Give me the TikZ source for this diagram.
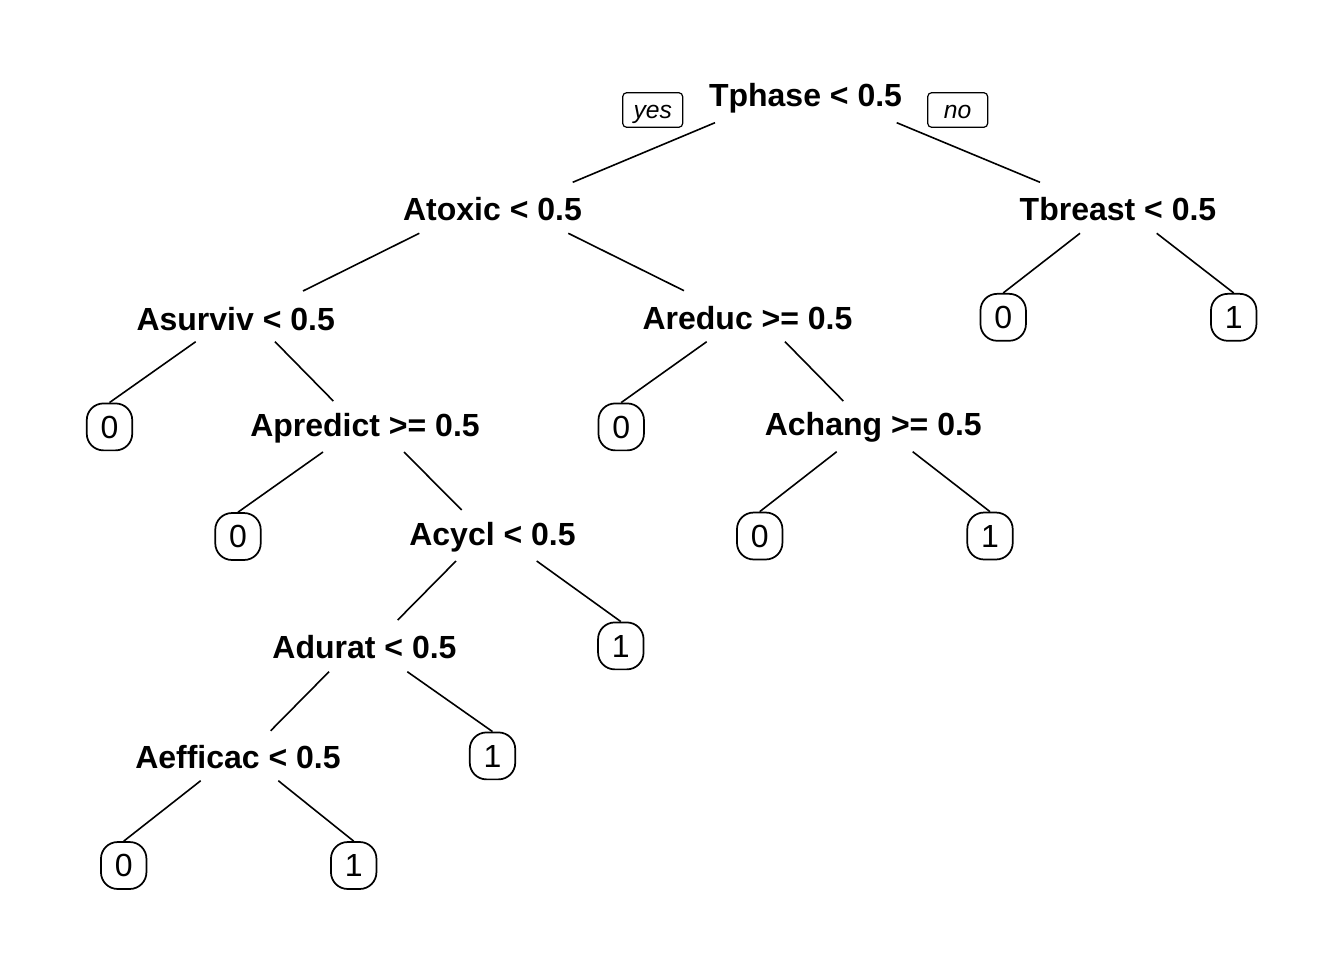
\documentclass[tikz,border=0pt]{standalone}
\usepackage{fontspec}
\setmainfont{Liberation Sans}
\usetikzlibrary{calc}
\begin{document}
\begin{tikzpicture}[x=0.75pt,y=-0.75pt,
  split/.style={anchor=base,inner sep=0pt,font=\bfseries\fontsize{24}{28}\selectfont},
  leaf/.style={draw,line width=1.3pt,rounded corners=12.5pt,minimum width=34.1pt,minimum height=35.2pt,inner sep=0pt,text height=17.2pt,text depth=0pt,font=\fontsize{24}{28}\selectfont},
  yn/.style={draw,line width=0.9pt,rounded corners=3pt,minimum width=45pt,minimum height=26pt,inner sep=0pt,text height=14.45pt,text depth=2pt,font=\itshape\fontsize{18.5}{22}\selectfont},
  edge/.style={line width=1.2pt}]
\useasboundingbox (0,0) rectangle (1344,960);
% split nodes
\node[split] (tphase) at (805.5,106.7) {Tphase < 0.5};
\node[split] (atoxic) at (492.5,220.7) {Atoxic < 0.5};
\node[split] (tbreast) at (1118,220.7) {Tbreast < 0.5};
\node[split] (asurviv) at (235.7,330) {Asurviv < 0.5};
\node[split] (areduc) at (747.5,329.3) {Areduc >= 0.5};
\node[split] (apredict) at (365,436.7) {Apredict >= 0.5};
\node[split] (achang) at (873.3,435) {Achang >= 0.5};
\node[split] (acycl) at (492.5,545) {Acycl < 0.5};
\node[split] (adurat) at (364.5,658.3) {Adurat < 0.5};
\node[split] (aefficac) at (238,768.3) {Aefficac < 0.5};
% yes / no labels
\node[yn] (yes) at (652.7,110) {yes};
\node[yn] (no) at (957.7,110) {no};
% leaves
\node[leaf] (tb0) at (1003.2,317.3) {0};
\node[leaf] (tb1) at (1233.7,317.3) {1};
\node[leaf] (as0) at (109.5,426.9) {0};
\node[leaf] (ar0) at (621.2,426.9) {0};
\node[leaf] (ap0) at (238,536.5) {0};
\node[leaf] (ac0) at (759.7,536) {0};
\node[leaf] (ac1) at (990,536) {1};
\node[leaf] (cy1) at (620.8,645.9) {1};
\node[leaf] (du1) at (492.5,755.9) {1};
\node[leaf] (ef0) at (123.7,865.5) {0};
\node[leaf] (ef1) at (353.7,865.5) {1};
% edges
\draw[edge] ($(tphase.base)+(-90.5,16)$) -- ($(atoxic.base)+(80.2,-38.4)$);
\draw[edge] ($(tphase.base)+(91.2,16)$) -- ($(tbreast.base)+(-78,-38.4)$);
\draw[edge] ($(atoxic.base)+(-73.2,12.6)$) -- ($(asurviv.base)+(67.3,-39)$);
\draw[edge] ($(atoxic.base)+(75.8,12.6)$) -- ($(areduc.base)+(-63.5,-38.6)$);
\draw[edge] ($(tbreast.base)+(-38,12.6)$) -- (tb0.north);
\draw[edge] ($(tbreast.base)+(38.7,12.6)$) -- (tb1.north);
\draw[edge] ($(asurviv.base)+(-40,11.7)$) -- (as0.north);
\draw[edge] ($(asurviv.base)+(39.3,11.7)$) -- ($(apredict.base)+(-31.7,-35.7)$);
\draw[edge] ($(areduc.base)+(-40.8,12.4)$) -- (ar0.north);
\draw[edge] ($(areduc.base)+(37.5,12.4)$) -- ($(achang.base)+(-30,-34)$);
\draw[edge] ($(apredict.base)+(-42,15.3)$) -- (ap0.north);
\draw[edge] ($(apredict.base)+(39,15.3)$) -- ($(acycl.base)+(-30.8,-35)$);
\draw[edge] ($(achang.base)+(-36.6,16.7)$) -- (ac0.north);
\draw[edge] ($(achang.base)+(39.4,16.7)$) -- (ac1.north);
\draw[edge] ($(acycl.base)+(-36.5,16)$) -- ($(adurat.base)+(33.2,-38.3)$);
\draw[edge] ($(acycl.base)+(44.2,16)$) -- (cy1.north);
\draw[edge] ($(adurat.base)+(-35.5,13.4)$) -- ($(aefficac.base)+(32.7,-37.6)$);
\draw[edge] ($(adurat.base)+(42.8,13.4)$) -- (du1.north);
\draw[edge] ($(aefficac.base)+(-37.3,12.4)$) -- (ef0.north);
\draw[edge] ($(aefficac.base)+(40.3,12.4)$) -- (ef1.north);
\end{tikzpicture}
\end{document}
